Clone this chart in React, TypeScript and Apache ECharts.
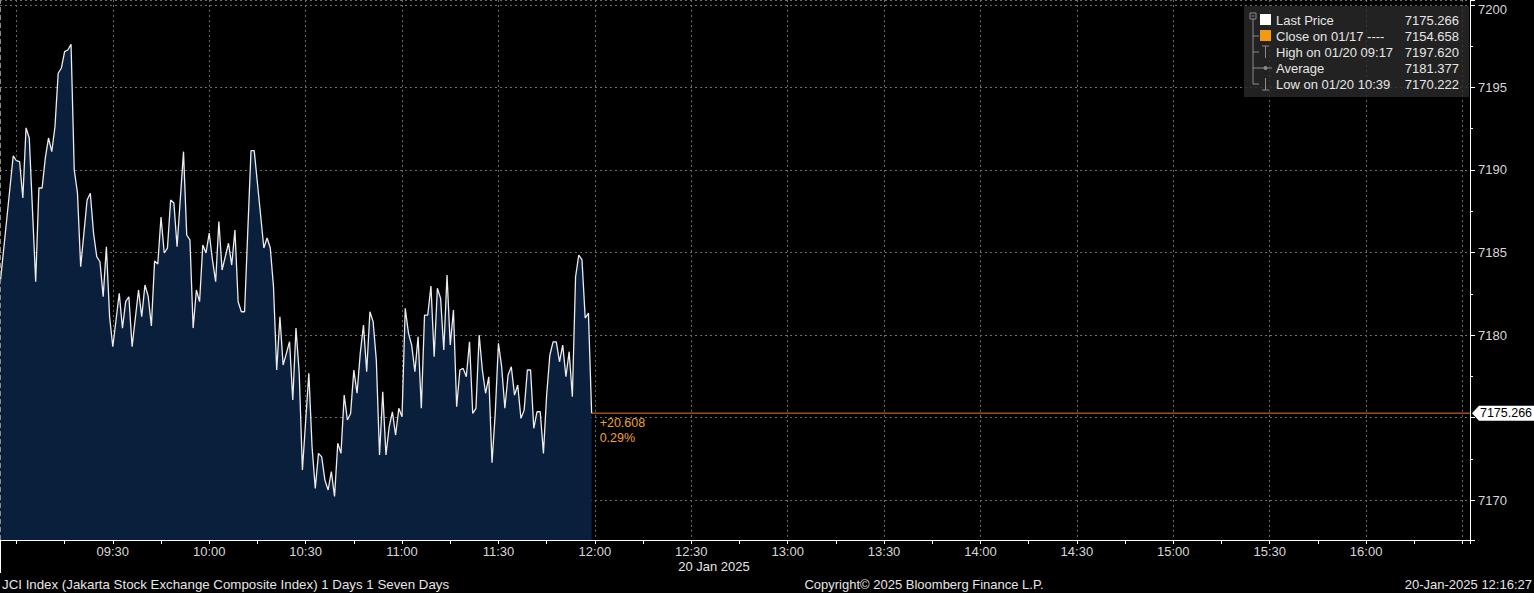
import React, { useEffect, useRef } from "react";
import * as echarts from "echarts";

// ---- Data ----
const intraday: [string, number][] = [
  ["08:55", 7183.21], ["08:59", 7190.85], ["09:00", 7190.56], ["09:01", 7190.5], ["09:02", 7188.3],
  ["09:03", 7192.55], ["09:04", 7191.94], ["09:06", 7183.23], ["09:07", 7188.91], ["09:08", 7188.91],
  ["09:09", 7190.73], ["09:10", 7191.94], ["09:11", 7191.11], ["09:12", 7192.62], ["09:13", 7195.86],
  ["09:14", 7196.18], ["09:15", 7197.17], ["09:16", 7197.27], ["09:17", 7197.62], ["09:18", 7190.0],
  ["09:19", 7188.61], ["09:20", 7184.14], ["09:22", 7188.18], ["09:23", 7188.59], ["09:24", 7186.18],
  ["09:25", 7184.75], ["09:26", 7184.44], ["09:27", 7182.32], ["09:28", 7185.35], ["09:29", 7181.11],
  ["09:30", 7179.29], ["09:32", 7182.53], ["09:33", 7180.42], ["09:34", 7182.02], ["09:35", 7182.32],
  ["09:36", 7179.29], ["09:38", 7182.73], ["09:39", 7181.11], ["09:40", 7183.03], ["09:41", 7182.36],
  ["09:42", 7180.55], ["09:43", 7184.48], ["09:44", 7184.3], ["09:45", 7187.15], ["09:46", 7184.97],
  ["09:47", 7185.27], ["09:48", 7188.18], ["09:49", 7188.0], ["09:50", 7185.35], ["09:52", 7191.11],
  ["09:53", 7186.06], ["09:54", 7185.76], ["09:55", 7180.42], ["09:56", 7182.73], ["09:57", 7182.02],
  ["09:58", 7185.45], ["09:59", 7184.97], ["10:00", 7186.18], ["10:01", 7184.55], ["10:02", 7183.23],
  ["10:03", 7186.87], ["10:04", 7183.94], ["10:05", 7184.75], ["10:06", 7185.56], ["10:07", 7184.24],
  ["10:08", 7186.36], ["10:09", 7182.02], ["10:10", 7181.41], ["10:11", 7181.41], ["10:13", 7191.17],
  ["10:14", 7191.17], ["10:15", 7189.21], ["10:17", 7185.27], ["10:18", 7185.88], ["10:19", 7185.27],
  ["10:20", 7182.93], ["10:21", 7177.88], ["10:22", 7181.11], ["10:23", 7178.18], ["10:25", 7179.59],
  ["10:26", 7176.06], ["10:27", 7180.42], ["10:28", 7177.7], ["10:29", 7171.82], ["10:31", 7177.68],
  ["10:32", 7173.23], ["10:33", 7170.71], ["10:34", 7172.83], ["10:35", 7172.62], ["10:36", 7171.21],
  ["10:37", 7170.61], ["10:38", 7171.72], ["10:39", 7170.222], ["10:40", 7173.44], ["10:41", 7172.83],
  ["10:42", 7176.36], ["10:43", 7174.85], ["10:44", 7175.25], ["10:45", 7177.88], ["10:46", 7176.47],
  ["10:47", 7178.89], ["10:48", 7180.61], ["10:49", 7177.78], ["10:50", 7181.41], ["10:51", 7180.81],
  ["10:52", 7178.48], ["10:53", 7172.73], ["10:54", 7176.56], ["10:55", 7172.73], ["10:56", 7174.44],
  ["10:57", 7175.35], ["10:58", 7173.94], ["10:59", 7175.56], ["11:00", 7175.05], ["11:01", 7181.62],
  ["11:02", 7180.12], ["11:03", 7179.39], ["11:04", 7177.78], ["11:05", 7179.9], ["11:06", 7175.56],
  ["11:07", 7181.21], ["11:08", 7181.21], ["11:09", 7182.97], ["11:10", 7178.68], ["11:11", 7182.83],
  ["11:12", 7182.22], ["11:13", 7179.09], ["11:14", 7183.64], ["11:15", 7179.39], ["11:16", 7181.52],
  ["11:17", 7175.65], ["11:18", 7177.88], ["11:19", 7177.98], ["11:20", 7177.47], ["11:21", 7179.59],
  ["11:22", 7175.25], ["11:23", 7175.56], ["11:24", 7180.0], ["11:25", 7177.88], ["11:26", 7176.47],
  ["11:27", 7177.47], ["11:28", 7172.26], ["11:29", 7175.25], ["11:30", 7179.5], ["11:31", 7178.08],
  ["11:32", 7175.56], ["11:33", 7177.58], ["11:34", 7178.08], ["11:35", 7176.36], ["11:36", 7176.97],
  ["11:37", 7174.95], ["11:38", 7175.45], ["11:39", 7177.88], ["11:40", 7177.88], ["11:41", 7174.35],
  ["11:42", 7175.35], ["11:43", 7175.35], ["11:44", 7172.83], ["11:45", 7176.36], ["11:46", 7178.79],
  ["11:47", 7179.59], ["11:48", 7179.59], ["11:49", 7178.38], ["11:50", 7179.39], ["11:51", 7177.47],
  ["11:52", 7178.99], ["11:53", 7176.26], ["11:54", 7183.53], ["11:55", 7184.85], ["11:56", 7184.55],
  ["11:57", 7181.03], ["11:58", 7181.33], ["11:59", 7175.266],
];

const lastPrice = 7175.266;
const prevClose = 7154.658;
const prevCloseDate = "01/17";
const highPrice = 7197.62;
const highLabel = "01/20 09:17";
const averagePrice = 7181.377;
const lowPrice = 7170.222;
const lowLabel = "01/20 10:39";

// axis extents (minutes since midnight / index points)
const xMinMinutes = 510; // 08:30
const xMaxMinutes = 992.33; // ~16:32
const yMin = 7167.58;
const yMax = 7200.3;
const labelFirst = 570; // 09:30
const labelLast = 960; // 16:00

const titleText = "JCI Index (Jakarta Stock Exchange Composite Index) 1 Days 1 Seven Days";
const copyrightText = "Copyright\u00a9 2025 Bloomberg Finance L.P.";
const stampText = "20-Jan-2025 12:16:27";
const dateText = "20 Jan 2025";

const FONT = '"Liberation Sans", Arial, sans-serif';
const OX = 80; // the canvas starts 80px left of the page, so 08:30 sits off-screen

function toMin(s: string): number {
  const [h, m] = s.split(":").map(Number);
  return h * 60 + m;
}
function fmtTime(v: number): string {
  const h = Math.floor(v / 60);
  const m = Math.round(v - h * 60);
  return `${String(h).padStart(2, "0")}:${String(m).padStart(2, "0")}`;
}

export default function App() {
  const ref = useRef<HTMLDivElement>(null);
  useEffect(() => {
    if (!ref.current) return;
    const chart = echarts.init(ref.current, undefined, { renderer: "svg" });
    const priceData = intraday.map(([t, v]) => [toMin(t), v]);
    const lastT = toMin(intraday[intraday.length - 1][0]);
    const firstT = toMin(intraday[0][0]);
    const chg = lastPrice - prevClose;
    const pct = (chg / prevClose) * 100;
    const orange = "#f0a030";
    const txt = "#e6e6e6";
    const legendRows = [
      { name: "Last Price", value: lastPrice },
      { name: `Close on ${prevCloseDate} ----`, value: prevClose },
      { name: `High on ${highLabel}`, value: highPrice },
      { name: "Average", value: averagePrice },
      { name: `Low on ${lowLabel}`, value: lowPrice },
    ];
    const gray = "#8a8a8a";
    const L = (x1: number, y1: number, x2: number, y2: number) => ({
      type: "line",
      shape: { x1: x1 + OX, y1, x2: x2 + OX, y2 },
      style: { stroke: gray, lineWidth: 1 },
      z: 11,
    });
    const legendGraphics: any[] = [
      { type: "rect", shape: { x: 1244 + OX, y: 6, width: 225, height: 91 }, style: { fill: "rgba(42,42,42,0.8)" }, z: 10 },
      { type: "rect", shape: { x: 1250 + OX, y: 13, width: 6, height: 6 }, style: { fill: "none", stroke: gray, lineWidth: 1 }, z: 11 },
      L(1251.5, 16, 1254.5, 16),
      L(1253, 19, 1253, 84),
      L(1253, 36, 1259, 36),
      L(1253, 52, 1259, 52),
      L(1253, 68, 1259, 68),
      L(1253, 84, 1259, 84),
      { type: "rect", shape: { x: 1260 + OX, y: 14, width: 11, height: 11 }, style: { fill: "#ffffff" }, z: 11 },
      { type: "rect", shape: { x: 1260 + OX, y: 30, width: 11, height: 11 }, style: { fill: "#f39a12" }, z: 11 },
      L(1262, 46, 1269, 46),
      L(1265.5, 46, 1265.5, 58),
      L(1259, 68, 1272, 68),
      { type: "circle", shape: { cx: 1265.5 + OX, cy: 68, r: 2 }, style: { fill: gray }, z: 11 },
      L(1265.5, 78, 1265.5, 90),
      L(1262, 90, 1269, 90),
    ];
    legendRows.forEach((r, i) => {
      const y = 20 + i * 16;
      legendGraphics.push({
        type: "text", x: 1276 + OX, y, z: 11,
        style: { text: r.name, fill: txt, font: `13px ${FONT}`, textAlign: "left", textVerticalAlign: "middle" },
      });
      legendGraphics.push({
        type: "text", x: 1459 + OX, y, z: 11,
        style: { text: r.value.toFixed(3), fill: txt, font: `13px ${FONT}`, textAlign: "right", textVerticalAlign: "middle" },
      });
    });

    const footer: any[] = [
      { type: "line", shape: { x1: 0.5 + OX, y1: 540, x2: 0.5 + OX, y2: 573 }, style: { stroke: "#ffffff", lineWidth: 1 } },
      { type: "text", x: 714 + OX, y: 566, style: { text: dateText, fill: txt, font: `13px ${FONT}`, textAlign: "center", textVerticalAlign: "middle" } },
      { type: "text", x: 2 + OX, y: 584, style: { text: titleText, fill: txt, font: `13.3px ${FONT}`, textAlign: "left", textVerticalAlign: "middle" } },
      { type: "text", x: 924 + OX, y: 584, style: { text: copyrightText, fill: txt, font: `13px ${FONT}`, textAlign: "center", textVerticalAlign: "middle" } },
      { type: "text", x: 1532 + OX, y: 584, style: { text: stampText, fill: txt, font: `13px ${FONT}`, textAlign: "right", textVerticalAlign: "middle" } },
    ];

    const lastLineColor = "#f2743a";

    const option: any = {
      animation: false,
      backgroundColor: "#000000",
      grid: { left: 0, right: 64, top: 0, bottom: 53, containLabel: false },
      xAxis: [
        {
          type: "value",
          min: xMinMinutes,
          max: xMaxMinutes,
          interval: 30,
          position: "bottom",
          axisLine: { show: true, lineStyle: { color: "#ffffff", width: 1 } },
          axisTick: { show: false },
          axisLabel: {
            show: true,
            color: "#d8d8d8",
            fontFamily: FONT,
            fontSize: 13,
            margin: 5,
            showMinLabel: false,
            showMaxLabel: false,
            formatter: (v: number) =>
              v >= labelFirst && v <= labelLast && Math.abs(v % 30) < 1e-6 ? fmtTime(v) : "",
          },
          splitLine: { show: true, lineStyle: { color: "#6a6a6a", type: [2, 3], width: 1 } },
        },
        {
          type: "value",
          min: xMinMinutes,
          max: xMaxMinutes,
          interval: 15,
          position: "bottom",
          axisLine: { show: false },
          axisTick: { show: true, length: 4, lineStyle: { color: "#ffffff" } },
          axisLabel: { show: false },
          splitLine: { show: false },
        },
      ],
      yAxis: {
        type: "value",
        position: "right",
        min: yMin,
        max: yMax,
        splitNumber: 6,
        axisLine: { show: true, lineStyle: { color: "#ffffff", width: 1 } },
        axisTick: { show: true, length: 5, lineStyle: { color: "#ffffff" } },
        minorTick: { show: true, splitNumber: 2, length: 3, lineStyle: { color: "#ffffff" } },
        axisLabel: {
          color: "#d8d8d8",
          fontFamily: FONT,
          fontSize: 13,
          margin: 8,
          showMinLabel: false,
          showMaxLabel: false,
          rich: {
            top: { color: "#d8d8d8", fontFamily: FONT, fontSize: 13, padding: [9, 0, 0, 0] },
          },
          formatter: (v: number) => {
            if (Math.abs(v % 5) > 1e-6 || Math.abs(v - lastPrice) < 2) return "";
            const s = String(Math.round(v));
            return v + 5 > yMax ? `{top|${s}}` : s;
          },
        },
        splitLine: { show: true, lineStyle: { color: "#6a6a6a", type: [2, 3], width: 1 } },
      },
      series: [
        {
          name: "Last Price",
          type: "line",
          xAxisIndex: 0,
          data: priceData,
          showSymbol: false,
          symbol: "none",
          color: "#ececec",
          lineStyle: { color: "#ececec", width: 1.3 },
          areaStyle: { color: "#0a1f3c", opacity: 1, origin: "start" },
          z: 2,
          markLine: {
            silent: true,
            symbol: ["none", "none"],
            label: { show: false },
            lineStyle: { color: "#8c8c8c", type: [5, 3], width: 1 },
            data: [{ xAxis: firstT }],
          },
        },
        {
          name: "Last",
          type: "line",
          xAxisIndex: 0,
          data: [
            [lastT, lastPrice],
            [xMaxMinutes, lastPrice],
          ],
          showSymbol: false,
          symbol: "none",
          color: lastLineColor,
          itemStyle: { color: lastLineColor },
          lineStyle: { color: lastLineColor, width: 1, opacity: 1 },
          z: 3,
          markPoint: {
            silent: true,
            data: [
              {
                coord: [xMaxMinutes, lastPrice],
                symbol: "path://M0,7.5L7,0L62,0L62,15L7,15Z",
                symbolSize: [62, 15],
                symbolOffset: [33, 0],
                itemStyle: { color: "#ffffff" },
                label: {
                  show: true,
                  position: "inside",
                  color: "#000000",
                  fontFamily: FONT,
                  fontSize: 12.5,
                  offset: [3, 0],
                  formatter: lastPrice.toFixed(3),
                },
              },
              {
                coord: [lastT, lastPrice],
                symbol: "circle",
                symbolSize: 0,
                itemStyle: { color: "transparent" },
                label: {
                  show: true,
                  position: [8, 2],
                  align: "left",
                  verticalAlign: "top",
                  color: orange,
                  fontFamily: FONT,
                  fontSize: 12.5,
                  lineHeight: 15,
                  formatter: `+${chg.toFixed(3)}\n${pct.toFixed(2)}%`,
                },
              },
            ],
          },
        },
      ],
      graphic: [...legendGraphics, ...footer],
    };
    chart.setOption(option);
    return () => chart.dispose();
  }, []);
  return (
    <div
      ref={ref}
      style={{ position: "fixed", left: -OX, top: 0, width: 1534 + OX, height: 593, background: "#000" }}
    />
  );
}
